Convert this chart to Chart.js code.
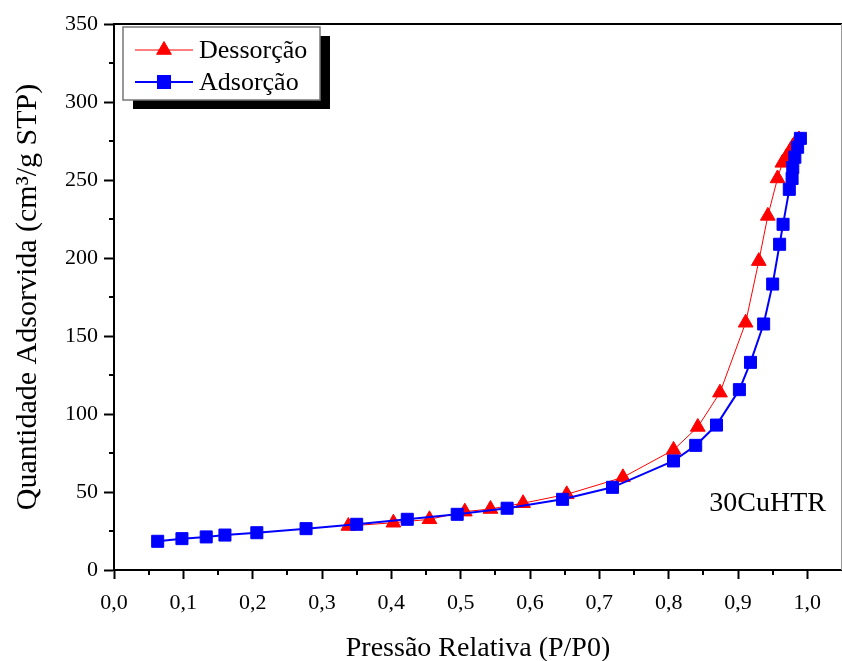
<!DOCTYPE html>
<html><head><meta charset="utf-8">
<script src="https://cdn.jsdelivr.net/npm/chart.js@4/dist/chart.umd.min.js"></script>
<style>html,body{margin:0;padding:0;background:#fff;}#wrap{width:842px;height:661px;position:relative;}canvas{display:block;}</style>
</head><body><div id="wrap"><canvas id="c" width="842" height="661"></canvas></div>
<script>
// ---- data ----
const adsP = [0.063, 0.098, 0.133, 0.160, 0.206, 0.277, 0.350, 0.423, 0.495, 0.567, 0.647, 0.719, 0.807, 0.839, 0.869, 0.902, 0.918, 0.937, 0.950, 0.960, 0.965, 0.974, 0.978, 0.979, 0.982, 0.986, 0.990];
const adsV = [18.4, 20.1, 21.2, 22.4, 23.9, 26.5, 29.3, 32.5, 35.7, 39.6, 45.3, 53.0, 69.9, 79.9, 92.9, 115.6, 133.1, 157.7, 183.3, 208.8, 221.6, 244, 251, 258, 264.6, 271, 276.7];
const desP = [0.988, 0.983, 0.979, 0.975, 0.970, 0.964, 0.957, 0.943, 0.930, 0.911, 0.874, 0.842, 0.807, 0.734, 0.653, 0.590, 0.543, 0.506, 0.455, 0.403, 0.338];
const desV = [276, 274, 271.5, 268.5, 265, 261, 251, 227, 198, 158.5, 113.7, 91.7, 77, 59.4, 48.5, 42.8, 39.1, 37.4, 32.5, 30.3, 28.2];
const xTickValues = [0, 0.1, 0.2, 0.3, 0.4, 0.5, 0.6, 0.7, 0.8, 0.9, 1.0];
const xMinorTicks = [0.05, 0.15, 0.25, 0.35, 0.45, 0.55, 0.65, 0.75, 0.85, 0.95];
const yTickValues = [0, 50, 100, 150, 200, 250, 300, 350];
const yMinorTicks = [25, 75, 125, 175, 225, 275, 325];
const labelDes = 'Dessorção';
const labelAds = 'Adsorção';
const sampleName = '30CuHTR';
const xTitle = 'Pressão Relativa (P/P0)';
const yTitle = 'Quantidade Adsorvida (cm³/g STP)';

const FONT = "'Liberation Serif', 'Times New Roman', serif";
const RED = '#FF0000', BLUE = '#0000FF';

const toPts = (xs, ys) => xs.map((x, i) => ({x: x, y: ys[i]}));

const framePlugin = {
  id: 'frame',
  afterDraw(chart) {
    const ctx = chart.ctx, a = chart.chartArea;
    const xs = chart.scales.x, ys = chart.scales.y;
    ctx.save();
    ctx.strokeStyle = '#000'; ctx.lineWidth = 2;
    ctx.beginPath(); ctx.moveTo(a.left - 1, a.top); ctx.lineTo(a.right, a.top); ctx.stroke();
    ctx.strokeStyle = '#999'; ctx.lineWidth = 1;
    ctx.beginPath(); ctx.moveTo(841.5, a.top); ctx.lineTo(841.5, a.bottom); ctx.stroke();
    ctx.strokeStyle = '#000'; ctx.lineWidth = 2;
    xMinorTicks.forEach(v => {
      const px = Math.round(xs.getPixelForValue(v));
      ctx.beginPath(); ctx.moveTo(px, a.bottom); ctx.lineTo(px, a.bottom + 5); ctx.stroke();
    });
    yMinorTicks.forEach(v => {
      const py = Math.round(ys.getPixelForValue(v));
      ctx.beginPath(); ctx.moveTo(a.left, py); ctx.lineTo(a.left - 5, py); ctx.stroke();
    });
    ctx.fillStyle = '#000';
    ctx.font = '28px ' + FONT;
    ctx.textAlign = 'right'; ctx.textBaseline = 'middle';
    ctx.fillText(sampleName, 826, 504);
    const bx = 123, by = 27, bw = 197, bh = 73;
    ctx.fillStyle = '#000';
    ctx.fillRect(bx + 10, by + 9, bw, bh);
    ctx.fillStyle = '#fff';
    ctx.fillRect(bx, by, bw, bh);
    ctx.strokeStyle = '#777'; ctx.lineWidth = 1.5;
    ctx.strokeRect(bx, by, bw, bh);
    const items = [chart.data.datasets[1], chart.data.datasets[0]];
    const rows = [50, 82];
    items.forEach((ds, i) => {
      const y = rows[i];
      ctx.strokeStyle = ds.borderColor; ctx.lineWidth = ds.borderWidth;
      ctx.beginPath(); ctx.moveTo(135, y); ctx.lineTo(193, y); ctx.stroke();
      ctx.fillStyle = ds.pointBackgroundColor; ctx.strokeStyle = ds.pointBorderColor;
      Chart.helpers.drawPoint(ctx, {pointStyle: ds.pointStyle, radius: ds.pointRadius, rotation: 0, borderWidth: ds.pointBorderWidth}, 164, y);
      ctx.fillStyle = '#000';
      ctx.font = '26px ' + FONT;
      ctx.textAlign = 'left'; ctx.textBaseline = 'middle';
      ctx.fillText(ds.label, 199, y + 1);
    });
    ctx.restore();
  }
};

new Chart(document.getElementById('c'), {
  type: 'scatter',
  data: {
    datasets: [
      {label: labelAds, data: toPts(adsP, adsV), showLine: true, borderColor: BLUE, backgroundColor: BLUE,
       borderWidth: 2, pointStyle: 'rect', pointRadius: 8.5, pointBackgroundColor: BLUE, pointBorderColor: BLUE, pointBorderWidth: 1, tension: 0},
      {label: labelDes, data: toPts(desP, desV), showLine: true, borderColor: RED, backgroundColor: RED,
       borderWidth: 1, pointStyle: 'triangle', pointRadius: 8.5, pointBackgroundColor: RED, pointBorderColor: RED, pointBorderWidth: 1, tension: 0}
    ]
  },
  options: {
    responsive: false, animation: false, devicePixelRatio: 1,
    layout: {autoPadding: false, padding: {top: 24, right: 0, left: 0, bottom: 0}},
    plugins: {legend: {display: false}, tooltip: {enabled: false}},
    scales: {
      x: {
        type: 'linear', min: 0, max: 1.05, position: 'bottom',
        afterBuildTicks: s => { s.ticks = xTickValues.map(v => ({value: v})); },
        afterFit: s => { s.height = 91; s.paddingLeft = 0; s.paddingRight = 0; },
        ticks: {callback: v => v.toFixed(1).replace('.', ','), font: {family: FONT, size: 22}, color: '#000', padding: 11, maxRotation: 0, autoSkip: false},
        border: {display: true, color: '#000', width: 2},
        grid: {display: true, drawOnChartArea: false, drawTicks: true, tickLength: 9, tickColor: '#000', tickWidth: 2},
        title: {display: true, text: xTitle, color: '#000', font: {family: FONT, size: 28, lineHeight: 0.9}, padding: 0}
      },
      y: {
        type: 'linear', min: 0, max: 350,
        afterBuildTicks: s => { s.ticks = yTickValues.map(v => ({value: v})); },
        afterFit: s => { s.width = 114; s.paddingTop = 0; s.paddingBottom = 0; },
        ticks: {font: {family: FONT, size: 22}, color: '#000', padding: 6, autoSkip: false},
        border: {display: true, color: '#000', width: 2},
        grid: {display: true, drawOnChartArea: false, drawTicks: true, tickLength: 10, tickColor: '#000', tickWidth: 2},
        title: {display: true, text: yTitle, color: '#000', font: {family: FONT, size: 30, lineHeight: 1.85}, padding: 0}
      }
    }
  },
  plugins: [framePlugin]
});
</script></body></html>
